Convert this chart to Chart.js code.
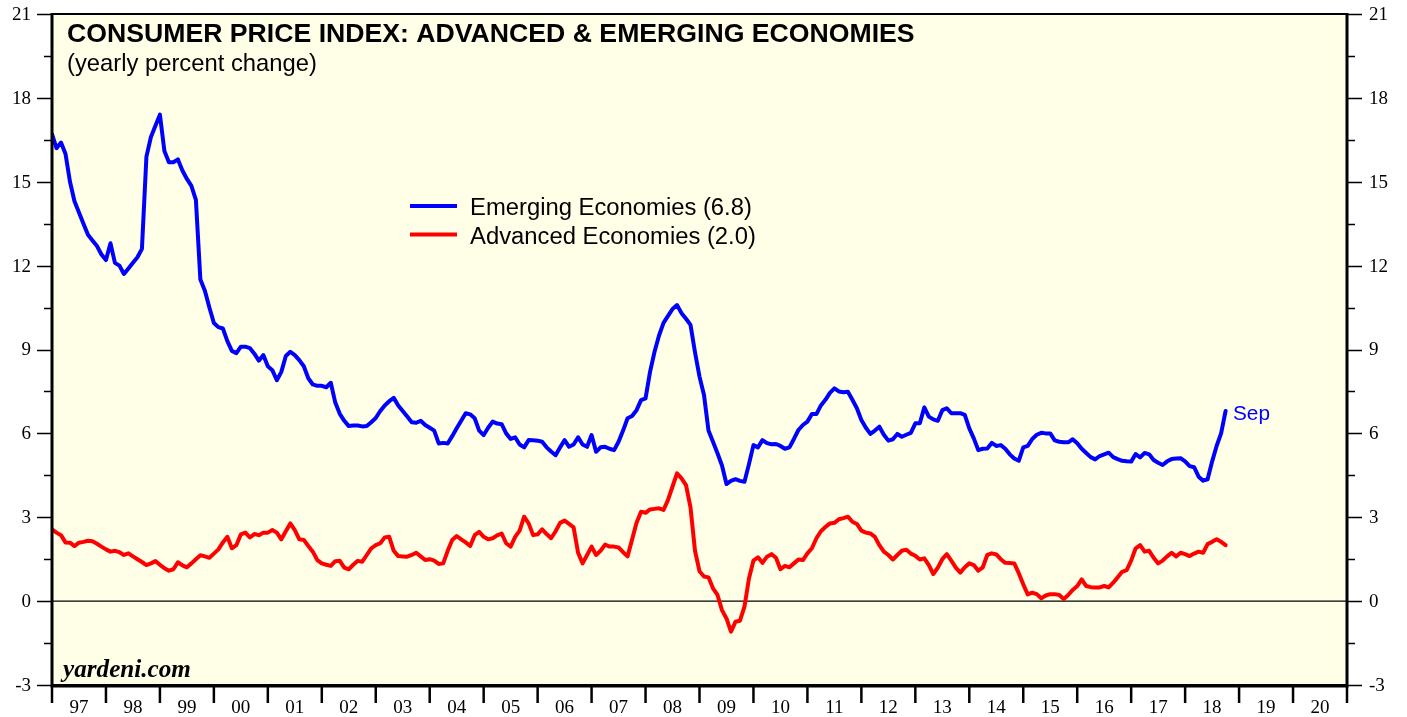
<!DOCTYPE html>
<html>
<head>
<meta charset="utf-8">
<script src="https://cdn.jsdelivr.net/npm/chart.js@4.4.0/dist/chart.umd.min.js"></script>
<style>
  html, body { margin: 0; padding: 0; background: #fff; }
  #wrap { width: 1407px; height: 717px; }
</style>
</head>
<body>
<div id="wrap"><canvas id="cpi" width="1407" height="717"></canvas></div>
<script>
// monthly, Dec 1996 .. Sep 2018 (yearly % change)
const START_YEAR = 1997;

const EMERGING = [
  16.7, 16.2, 16.4, 16.0, 15.0, 14.3, 13.9, 13.5, 13.1, 12.9, 12.7, 12.4,
  12.2, 12.8, 12.1, 12.0, 11.7, 11.9, 12.1, 12.3, 12.6, 15.9, 16.6, 17.0,
  17.4, 16.1, 15.7, 15.7, 15.8, 15.4, 15.1, 14.85, 14.35, 11.5, 11.1, 10.5,
  9.95, 9.8, 9.75, 9.3, 8.95, 8.87, 9.1, 9.1, 9.05, 8.85, 8.6, 8.8,
  8.4, 8.26, 7.9, 8.2, 8.77, 8.92, 8.8, 8.62, 8.4, 7.97, 7.75, 7.7,
  7.7, 7.65, 7.81, 7.1, 6.7, 6.45, 6.26, 6.28, 6.28, 6.25, 6.26, 6.4,
  6.55, 6.8, 7.0, 7.15, 7.27, 7.0, 6.8, 6.6, 6.4, 6.38, 6.45, 6.3,
  6.2, 6.1, 5.64, 5.66, 5.64, 5.9, 6.18, 6.45, 6.72, 6.68, 6.54, 6.1,
  5.94, 6.2, 6.42, 6.35, 6.33, 6.0, 5.8, 5.86, 5.6, 5.5, 5.76, 5.75,
  5.74, 5.7, 5.5, 5.35, 5.22, 5.5, 5.76, 5.52, 5.6, 5.86, 5.6, 5.52,
  5.94, 5.34, 5.5, 5.52, 5.45, 5.4, 5.7, 6.1, 6.54, 6.62, 6.83, 7.19,
  7.25, 8.2, 8.92, 9.5, 9.95, 10.2, 10.45, 10.59, 10.3, 10.1, 9.88, 8.9,
  8.03, 7.37, 6.1, 5.7, 5.29, 4.85, 4.19, 4.3, 4.36, 4.3, 4.27, 4.9,
  5.58, 5.5, 5.76, 5.65, 5.61, 5.62, 5.55, 5.45, 5.5, 5.8, 6.12, 6.3,
  6.42, 6.69, 6.69, 7.0, 7.2, 7.45, 7.61, 7.5, 7.47, 7.49, 7.2, 6.9,
  6.48, 6.2, 5.98, 6.1, 6.24, 5.95, 5.74, 5.79, 5.98, 5.88, 5.95, 6.02,
  6.36, 6.36, 6.93, 6.6, 6.5, 6.45, 6.83, 6.9, 6.72, 6.72, 6.72, 6.66,
  6.18, 5.82, 5.4, 5.45, 5.46, 5.66, 5.55, 5.58, 5.45, 5.25, 5.1, 5.02,
  5.5, 5.55, 5.8, 5.95, 6.02, 6.0, 6.0, 5.75, 5.7, 5.68, 5.68, 5.79,
  5.65, 5.45, 5.3, 5.15, 5.07, 5.19, 5.25, 5.31, 5.15, 5.08, 5.02, 5.0,
  4.99, 5.26, 5.14, 5.3, 5.25, 5.05, 4.95, 4.87, 5.0, 5.08, 5.1, 5.11,
  5.0, 4.83, 4.79, 4.45, 4.31, 4.36, 4.99, 5.55, 6.0, 6.8
];

const ADVANCED = [
  2.57, 2.45, 2.36, 2.1, 2.09, 1.97, 2.09, 2.12, 2.16, 2.14, 2.05, 1.95,
  1.85, 1.77, 1.8, 1.75, 1.65, 1.71, 1.6, 1.5, 1.4, 1.29, 1.35, 1.43,
  1.3, 1.18, 1.09, 1.14, 1.39, 1.28, 1.21, 1.35, 1.5, 1.64, 1.6, 1.55,
  1.7, 1.85, 2.1, 2.3, 1.89, 2.0, 2.39, 2.45, 2.28, 2.4, 2.36, 2.45,
  2.45, 2.54, 2.45, 2.21, 2.5, 2.78, 2.54, 2.21, 2.19, 1.97, 1.77, 1.47,
  1.35, 1.3, 1.26, 1.43, 1.44, 1.2, 1.14, 1.3, 1.44, 1.41, 1.65, 1.89,
  2.0, 2.07, 2.28, 2.3, 1.8, 1.61, 1.6, 1.59, 1.65, 1.73, 1.6, 1.47,
  1.5, 1.45, 1.33, 1.35, 1.8, 2.19, 2.33, 2.21, 2.1, 1.97, 2.36, 2.48,
  2.3, 2.21, 2.25, 2.35, 2.42, 2.07, 1.95, 2.3, 2.52, 3.02, 2.78, 2.36,
  2.39, 2.57, 2.4, 2.25, 2.5, 2.8, 2.88, 2.76, 2.64, 1.73, 1.35, 1.65,
  1.95, 1.65, 1.8, 2.02, 1.95, 1.95, 1.92, 1.75, 1.6, 2.2, 2.8, 3.2,
  3.16, 3.28, 3.3, 3.32, 3.26, 3.62, 4.1, 4.57, 4.39, 4.15, 3.35, 1.8,
  1.07, 0.88, 0.85, 0.46, 0.22, -0.32, -0.62, -1.09, -0.74, -0.7, -0.2, 0.81,
  1.45, 1.57, 1.37, 1.59, 1.68, 1.55, 1.14, 1.26, 1.21, 1.35, 1.49, 1.47,
  1.71, 1.89, 2.25, 2.5, 2.65, 2.78, 2.8, 2.93, 2.97, 3.02, 2.84, 2.76,
  2.52, 2.45, 2.42, 2.3, 2.0, 1.77, 1.65, 1.49, 1.65, 1.8, 1.84, 1.7,
  1.62, 1.49, 1.53, 1.29, 0.97, 1.2, 1.5, 1.68, 1.45, 1.2, 1.02, 1.21,
  1.35, 1.29, 1.09, 1.21, 1.65, 1.71, 1.67, 1.5, 1.37, 1.36, 1.35, 1.0,
  0.6, 0.24, 0.3, 0.25, 0.1, 0.2, 0.25, 0.25, 0.22, 0.08, 0.22, 0.4,
  0.54, 0.78, 0.54, 0.5, 0.49, 0.49, 0.54, 0.49, 0.66, 0.85, 1.05, 1.11,
  1.45, 1.89, 2.0, 1.77, 1.8, 1.55, 1.35, 1.45, 1.6, 1.73, 1.6, 1.73,
  1.68, 1.61, 1.7, 1.77, 1.73, 2.04, 2.12, 2.21, 2.12, 2.0
];

const YEAR_LABELS = ["97", "98", "99", "00", "01", "02", "03", "04", "05", "06", "07", "08",
                     "09", "10", "11", "12", "13", "14", "15", "16", "17", "18", "19", "20"];
const Y_LABELS = [-3, 0, 3, 6, 9, 12, 15, 18, 21];
const Y_MINOR = [-1.5, 1.5, 4.5, 7.5, 10.5, 13.5, 16.5, 19.5];

const LEGEND = [
  { text: "Emerging Economies (6.8)", color: "#0000ff", width: 282 },
  { text: "Advanced Economies (2.0)", color: "#ff0000", width: 286 },
];

const PLOT_BG = "#fffee6";
const SERIF = '"Liberation Serif", "Times New Roman", serif';
const SANS = '"Liberation Sans", Arial, sans-serif';

const toPoints = (arr) => arr.map((v, i) => ({ x: START_YEAR + i / 12, y: v }));

// font size that makes text span a given width
function fitFont(ctx, text, style, family, width) {
  ctx.font = `${style} 20px ${family}`;
  return 20 * width / ctx.measureText(text).width;
}

const decor = {
  id: "decor",
  beforeDraw(chart) {
    const { ctx, chartArea: a } = chart;
    ctx.save();
    ctx.fillStyle = "#fff";
    ctx.fillRect(0, 0, chart.width, chart.height);
    ctx.fillStyle = PLOT_BG;
    ctx.fillRect(a.left, a.top, a.right - a.left, a.bottom - a.top);
    // zero line
    const y0 = chart.scales.y.getPixelForValue(0);
    ctx.strokeStyle = "#000";
    ctx.lineWidth = 1.3;
    ctx.beginPath();
    ctx.moveTo(a.left, y0);
    ctx.lineTo(a.right, y0);
    ctx.stroke();
    ctx.restore();
  },
  afterDraw(chart) {
    const { ctx, chartArea: a } = chart;
    const xs = chart.scales.x, ys = chart.scales.y;
    ctx.save();

    // frame
    ctx.strokeStyle = "#000";
    ctx.lineWidth = 2;
    ctx.strokeRect(a.left, a.top, a.right - a.left, a.bottom - a.top);
    ctx.lineWidth = 3;
    ctx.beginPath();
    ctx.moveTo(a.left, a.top - 1); ctx.lineTo(a.left, a.bottom + 1);
    ctx.lineTo(a.right, a.bottom + 1); ctx.lineTo(a.right, a.top - 1);
    ctx.stroke();

    // y ticks both sides
    ctx.lineWidth = 1.5;
    const tick = (v, len) => {
      const y = Math.round(ys.getPixelForValue(v)) + 0.5;
      ctx.beginPath();
      ctx.moveTo(a.left - len, y); ctx.lineTo(a.left, y);
      ctx.moveTo(a.right, y); ctx.lineTo(a.right + len, y);
      ctx.stroke();
    };
    Y_LABELS.forEach((v) => tick(v, 15));
    Y_MINOR.forEach((v) => tick(v, 8));

    ctx.fillStyle = "#000";
    ctx.font = `19px ${SERIF}`;
    ctx.textBaseline = "middle";
    Y_LABELS.forEach((v) => {
      const y = ys.getPixelForValue(v) + 1;
      ctx.textAlign = "right";
      ctx.fillText(String(v), 31, y);
      ctx.textAlign = "left";
      ctx.fillText(String(v), 1369, y);
    });

    // x ticks at year boundaries, labels centred in each year
    ctx.lineWidth = 2.5;
    for (let k = 0; k <= YEAR_LABELS.length; k++) {
      const x = xs.getPixelForValue(START_YEAR + k);
      ctx.beginPath();
      ctx.moveTo(x, a.bottom); ctx.lineTo(x, a.bottom + 18);
      ctx.stroke();
    }
    ctx.textAlign = "center";
    YEAR_LABELS.forEach((lab, k) => {
      const x = xs.getPixelForValue(START_YEAR + k + 0.5);
      ctx.fillText(lab, x, a.bottom + 23);
    });

    // title block
    ctx.textAlign = "left";
    ctx.textBaseline = "alphabetic";
    const title = "CONSUMER PRICE INDEX: ADVANCED & EMERGING ECONOMIES";
    ctx.font = `bold ${fitFont(ctx, title, "bold", SANS, 848)}px ${SANS}`;
    ctx.fillText(title, 67, 42);
    const sub = "(yearly percent change)";
    ctx.font = `${fitFont(ctx, sub, "normal", SANS, 250)}px ${SANS}`;
    ctx.fillText(sub, 67, 71);

    // legend
    LEGEND.forEach((item, i) => {
      const y = 206 + i * 28.5;
      ctx.strokeStyle = item.color;
      ctx.lineWidth = 4;
      ctx.beginPath();
      ctx.moveTo(410, y); ctx.lineTo(457, y);
      ctx.stroke();
      ctx.fillStyle = "#000";
      ctx.font = `${fitFont(ctx, item.text, "normal", SANS, item.width)}px ${SANS}`;
      ctx.fillText(item.text, 470, y + 9);
    });

    // last-month tag
    ctx.fillStyle = "#0000ff";
    ctx.font = `${fitFont(ctx, "Sep", "normal", SANS, 37)}px ${SANS}`;
    ctx.fillText("Sep", 1233, 420);

    // source
    ctx.fillStyle = "#000";
    const src = "yardeni.com";
    ctx.font = `italic bold ${fitFont(ctx, src, "italic bold", SERIF, 128)}px ${SERIF}`;
    ctx.fillText(src, 63, 677);

    ctx.restore();
  },
};

new Chart(document.getElementById("cpi"), {
  type: "line",
  data: {
    datasets: [
      {
        label: "Emerging Economies",
        data: toPoints(EMERGING),
        borderColor: "#0000ff",
        borderWidth: 4,
        pointRadius: 0,
        tension: 0,
        borderJoinStyle: "round",
        borderCapStyle: "round",
      },
      {
        label: "Advanced Economies",
        data: toPoints(ADVANCED),
        borderColor: "#ff0000",
        borderWidth: 4,
        pointRadius: 0,
        tension: 0,
        borderJoinStyle: "round",
        borderCapStyle: "round",
      },
    ],
  },
  options: {
    responsive: false,
    animation: false,
    events: [],
    layout: { padding: { left: 52, right: 60, top: 14, bottom: 32 } },
    plugins: { legend: { display: false }, tooltip: { enabled: false } },
    scales: {
      x: { type: "linear", min: START_YEAR, max: START_YEAR + YEAR_LABELS.length, display: false },
      y: { min: -3, max: 21, display: false },
    },
  },
  plugins: [decor],
});
</script>
</body>
</html>
